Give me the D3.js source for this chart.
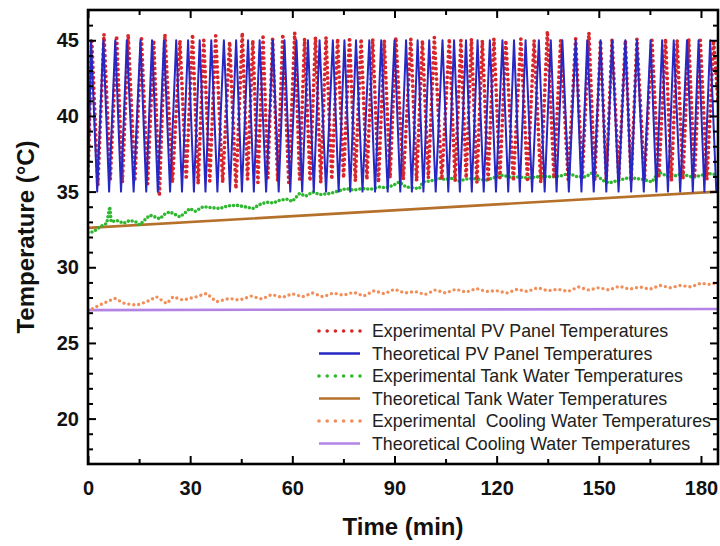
<!DOCTYPE html>
<html><head><meta charset="utf-8">
<script src="https://cdn.jsdelivr.net/npm/d3@7"></script>
<style>
body{margin:0;background:#fff}
text{font-family:Arial,"Liberation Sans",sans-serif}
</style>
</head><body>
<svg id="c" width="720" height="546"></svg>
<script>
// ---------------- DATA ----------------
const xTicksMajor = [0, 30, 60, 90, 120, 150, 180];
const xTicksMinor = [15, 45, 75, 105, 135, 165];
const yTicksMajor = [20, 25, 30, 35, 40, 45];
const yTicksMinor = [18, 19, 21, 22, 23, 24, 26, 27, 28, 29, 31, 32, 33, 34, 36, 37, 38, 39, 41, 42, 43, 44, 46];

// Theoretical PV panel temperature: saw-tooth between 35 and 45 °C
const pvTheoMax = 45, pvTheoMin = 35;
const pvTheoPeakTimes = [0.9, 4.5, 8.0, 11.4, 15.4, 18.8, 22.3, 25.9, 29.4, 32.8, 36.2, 39.9, 43.5, 47.0, 50.4, 54.3, 57.7, 61.2, 64.6, 68.0, 71.9, 75.3, 78.7, 82.6, 86.1, 90.0, 93.4, 96.8, 100.2, 104.1, 107.5, 111.0, 114.4, 118.0, 121.7, 125.1, 128.5, 132.4, 135.9, 139.3, 143.2, 146.6, 150.5, 153.9, 157.8, 161.2, 165.2, 168.6, 172.0, 175.9, 179.3, 182.7];
const pvTheoTroughTimes = [0, 2.7, 6.2, 9.7, 13.4, 17.1, 20.5, 24.1, 27.6, 31.1, 34.5, 38.0, 41.7, 45.2, 48.7, 52.3, 56.0, 59.4, 62.9, 66.3, 69.9, 73.6, 77.0, 80.6, 84.3, 88.0, 91.7, 95.1, 98.5, 102.1, 105.8, 109.2, 112.7, 116.2, 119.8, 123.4, 126.8, 130.4, 134.1, 137.6, 141.2, 144.9, 148.5, 152.2, 155.8, 159.5, 163.2, 166.9, 170.3, 173.9, 177.6, 181.0, 184.5];

// Experimental PV panel temperature
const pvExpPeakTimes = [1.1, 4.7, 8.4, 11.8, 15.7, 19.3, 22.6, 27.0, 30.7, 34.0, 37.5, 41.6, 45.3, 48.4, 51.4, 54.2, 57.2, 60.7, 63.6, 66.8, 69.9, 73.3, 76.8, 80.2, 83.6, 87.0, 90.4, 94.8, 98.2, 101.7, 106.1, 109.5, 112.6, 115.8, 119.2, 122.7, 127.1, 131.0, 134.9, 138.8, 143.2, 147.1, 150.5, 153.9, 157.8, 161.2, 165.6, 169.6, 173.0, 176.4, 179.8, 183.7];
const pvExpPeakTemps = [45.1, 45.4, 45.3, 45.4, 45.1, 45.0, 45.4, 45.0, 45.4, 45.0, 45.3, 44.9, 45.5, 45.0, 45.2, 45.1, 45.4, 45.5, 45.1, 45.2, 45.2, 45.1, 45.2, 45.1, 45.1, 45.0, 45.2, 45.1, 45.0, 45.2, 45.1, 45.0, 45.1, 45.0, 45.1, 45.0, 45.1, 45.0, 45.6, 45.0, 45.1, 45.5, 45.0, 45.1, 45.0, 45.1, 45.0, 45.1, 45.0, 45.1, 45.0, 45.0];
const pvExpTroughTimes = [0, 2.9, 6.55, 10.1, 13.75, 17.5, 20.95, 24.8, 28.85, 32.35, 35.75, 39.55, 43.45, 46.85, 49.9, 52.8, 55.7, 58.95, 62.15, 65.2, 68.35, 71.6, 75.05, 78.5, 81.9, 85.3, 88.7, 92.6, 96.5, 99.95, 103.9, 107.8, 111.05, 114.2, 117.5, 120.95, 124.9, 129.05, 132.95, 136.85, 141.0, 145.15, 148.8, 152.2, 155.85, 159.5, 163.4, 167.6, 171.3, 174.7, 178.1, 181.75, 185];
const pvExpTroughTemps = [36.0, 35.4, 35.8, 35.6, 35.7, 35.5, 34.7, 35.6, 35.8, 35.5, 35.7, 35.6, 35.2, 35.8, 35.6, 35.9, 35.7, 35.6, 35.8, 35.7, 35.6, 35.8, 35.9, 35.7, 35.8, 35.6, 35.9, 35.8, 35.7, 35.9, 35.8, 35.7, 35.9, 35.6, 35.8, 35.9, 35.7, 35.8, 35.6, 35.9, 35.8, 35.9, 35.7, 35.8, 35.9, 35.7, 35.8, 35.9, 35.7, 35.8, 35.9, 35.8, 41.0];

// Experimental tank water temperature
const tankExpTimes = [0, 1.6, 3.5, 5.5, 6.4, 6.8, 8.4, 10.5, 12.3, 14.0, 15.2, 17.0, 18.2, 20.0, 21.1, 22.5, 24.0, 25.5, 27.0, 28.5, 29.9, 31.5, 33.8, 36.0, 38.7, 41.0, 43.6, 46.0, 48.4, 50.5, 52.4, 54.5, 56.3, 58.5, 60.0, 62.1, 64.0, 66.0, 68.0, 70.9, 73.0, 75.8, 78.0, 80.7, 83.0, 85.6, 87.5, 89.5, 91.4, 93.4, 95.5, 97.3, 98.3, 100.5, 103.1, 105.0, 107.0, 109.0, 111.9, 114.0, 116.8, 119.0, 121.7, 124.0, 126.6, 129.0, 131.5, 134.0, 136.3, 139.0, 141.2, 143.5, 146.1, 148.5, 151.0, 153.0, 155.9, 158.5, 160.8, 163.0, 165.6, 167.6, 170.5, 172.5, 174.4, 176.5, 178.3, 180.5, 182.2, 185.0];
const tankExpTemps = [32.3, 32.34, 32.67, 32.9, 34.0, 33.0, 33.1, 32.9, 33.1, 33.0, 32.8, 33.2, 33.44, 33.3, 33.2, 33.5, 33.66, 33.5, 33.33, 33.6, 33.88, 33.7, 34.0, 33.95, 33.88, 34.05, 34.1, 34.0, 33.88, 34.15, 34.3, 34.25, 34.43, 34.5, 34.35, 34.87, 34.7, 34.98, 34.8, 34.87, 35.0, 35.2, 35.1, 35.2, 35.15, 35.3, 35.25, 35.4, 35.64, 35.3, 35.25, 35.2, 35.64, 35.7, 35.87, 35.8, 35.87, 35.7, 35.87, 35.85, 35.75, 35.9, 36.08, 35.95, 35.97, 35.9, 35.97, 36.0, 35.97, 36.05, 36.2, 36.0, 35.97, 36.3, 35.75, 35.57, 35.75, 35.9, 35.87, 35.8, 35.64, 36.3, 35.97, 36.05, 36.2, 36.0, 35.97, 36.1, 36.2, 36.1];

// Theoretical tank water temperature
const tankTheoTimes = [0, 185];
const tankTheoTemps = [32.6, 35.0];

// Experimental cooling water temperature
const coolExpTimes = [0, 2.5, 5.5, 7.9, 10.8, 14.3, 17.2, 20.1, 23.1, 25.0, 27.9, 31.8, 34.8, 37.7, 41.6, 44.5, 48, 51, 54, 57, 60, 63, 66, 69, 72, 75, 78, 81, 84, 87, 90, 93, 96, 99, 102, 105, 108, 111, 114, 117, 120, 123, 126, 129, 132, 135, 138, 141, 144, 147, 150, 153, 156, 159, 162, 165, 168, 171, 174, 177, 180, 183, 185];
const coolExpTemps = [27.1, 27.4, 27.72, 27.94, 27.6, 27.5, 27.72, 28.05, 27.6, 28.05, 27.83, 28.05, 28.27, 27.72, 27.94, 27.83, 28.1, 27.9, 28.2, 28.0, 28.25, 28.05, 28.3, 28.05, 28.3, 28.15, 28.35, 28.1, 28.45, 28.25, 28.55, 28.3, 28.4, 28.2, 28.5, 28.3, 28.55, 28.35, 28.6, 28.4, 28.45, 28.3, 28.55, 28.4, 28.65, 28.45, 28.55, 28.4, 28.7, 28.5, 28.65, 28.5, 28.75, 28.55, 28.7, 28.55, 28.8, 28.65, 28.8, 28.7, 28.95, 28.85, 29.05];

// Theoretical cooling water temperature
const coolTheoTimes = [0, 185];
const coolTheoTemps = [27.17, 27.24];

const legendLabels = [
  "Experimental PV Panel Temperatures",
  "Theoretical PV Panel Temperatures",
  "Experimental Tank Water Temperatures",
  "Theoretical Tank Water Temperatures",
  "Experimental  Cooling Water Temperatures",
  "Theoretical Cooling Water Temperatures"
];

// ---------------- BUILD SERIES ----------------
function zip(ts, vs) { return ts.map((t, i) => [t, vs[i]]); }
function sawtooth(troughT, troughV, peakT, peakV) {
  const out = [];
  for (let i = 0; i < troughT.length; i++) {
    out.push([troughT[i], troughV[i]]);
    if (i < peakT.length) out.push([peakT[i], peakV[i]]);
  }
  return out;
}
const pvTheo = sawtooth(pvTheoTroughTimes, pvTheoTroughTimes.map(() => pvTheoMin),
                        pvTheoPeakTimes, pvTheoPeakTimes.map(() => pvTheoMax));
const pvExp = sawtooth(pvExpTroughTimes, pvExpTroughTemps, pvExpPeakTimes, pvExpPeakTemps);

const styles = [
  {color: "#d8262b", width: 3.8, dash: "0 5.2", legendDash: "0 8.2"},
  {color: "#2727c4", width: 2.0, dash: null},
  {color: "#2fb82f", width: 3.6, dash: "0 4", legendDash: "0 8.2"},
  {color: "#b5702a", width: 2.6, dash: null},
  {color: "#f28e58", width: 3.4, dash: "0 5", legendDash: "0 8.2"},
  {color: "#b483e6", width: 2.6, dash: null}
];
const series = [pvExp, pvTheo, zip(tankExpTimes, tankExpTemps), zip(tankTheoTimes, tankTheoTemps),
                zip(coolExpTimes, coolExpTemps), zip(coolTheoTimes, coolTheoTemps)];

// ---------------- DRAW ----------------
const svg = d3.select("#c");
const L = 88, R = 718, T = 10, B = 464;
const x = d3.scaleLinear().domain([0, 185]).range([L, R]);
const y = d3.scaleLinear().domain([17, 47]).range([B, T]);

svg.append("rect").attr("width", 720).attr("height", 546).attr("fill", "#fff");
svg.append("clipPath").attr("id", "clip").append("rect")
  .attr("x", L).attr("y", T).attr("width", R - L).attr("height", B - T);

const line = d3.line().x(d => x(d[0])).y(d => y(d[1]));
const plot = svg.append("g").attr("clip-path", "url(#clip)");
[5, 4, 3, 2, 0, 1].forEach(i => {
  const s = styles[i];
  plot.append("path").datum(series[i])
    .attr("d", line).attr("fill", "none")
    .attr("stroke", s.color).attr("stroke-width", s.width)
    .attr("stroke-linecap", "round").attr("stroke-linejoin", "round")
    .attr("stroke-dasharray", s.dash);
});

// axes (inward ticks, mirrored)
function styleAxis(g) {
  g.select(".domain").remove();
  g.selectAll(".tick line").attr("stroke", "#000").attr("stroke-width", 2);
  g.selectAll("text").attr("font-size", 20).attr("font-weight", "bold").attr("fill", "#111");
}
svg.append("g").attr("transform", `translate(0,${B})`)
  .call(d3.axisBottom(x).tickValues(xTicksMajor).tickSize(-8).tickPadding(17).tickFormat(d3.format("d"))).call(styleAxis);
svg.append("g").attr("transform", `translate(0,${B})`)
  .call(d3.axisBottom(x).tickValues(xTicksMinor).tickSize(-5).tickFormat("")).call(styleAxis);
svg.append("g").attr("transform", `translate(0,${T})`)
  .call(d3.axisTop(x).tickValues(xTicksMajor).tickSize(-8).tickFormat("")).call(styleAxis);
svg.append("g").attr("transform", `translate(0,${T})`)
  .call(d3.axisTop(x).tickValues(xTicksMinor).tickSize(-5).tickFormat("")).call(styleAxis);
svg.append("g").attr("transform", `translate(${L},0)`)
  .call(d3.axisLeft(y).tickValues(yTicksMajor).tickSize(-8).tickPadding(9).tickFormat(d3.format("d"))).call(styleAxis);
svg.append("g").attr("transform", `translate(${L},0)`)
  .call(d3.axisLeft(y).tickValues(yTicksMinor).tickSize(-5).tickFormat("")).call(styleAxis);
svg.append("g").attr("transform", `translate(${R},0)`)
  .call(d3.axisRight(y).tickValues(yTicksMajor).tickSize(-8).tickFormat("")).call(styleAxis);
svg.append("g").attr("transform", `translate(${R},0)`)
  .call(d3.axisRight(y).tickValues(yTicksMinor).tickSize(-5).tickFormat("")).call(styleAxis);

svg.append("rect").attr("x", L).attr("y", T).attr("width", R - L).attr("height", B - T)
  .attr("fill", "none").attr("stroke", "#000").attr("stroke-width", 2.6);

// axis titles
svg.append("text").attr("x", 403).attr("y", 535).attr("text-anchor", "middle")
  .attr("font-size", 24).attr("font-weight", "bold").attr("fill", "#111").text("Time (min)");
svg.append("text").attr("transform", "translate(34,237) rotate(-90)").attr("text-anchor", "middle")
  .attr("font-size", 24).attr("font-weight", "bold").attr("fill", "#111").text("Temperature (°C)");

// legend
const lg = svg.append("g");
const legY = d3.scaleLinear().domain([0, 5]).range([331, 443.5]);
legendLabels.forEach((lab, i) => {
  const s = styles[i];
  lg.append("line").attr("x1", 319).attr("x2", 360).attr("y1", legY(i)).attr("y2", legY(i))
    .attr("stroke", s.color).attr("stroke-width", s.dash ? 3.6 : 2.4)
    .attr("stroke-linecap", s.dash ? "round" : "butt")
    .attr("stroke-dasharray", s.legendDash || null);
  lg.append("text").attr("x", 372).attr("y", legY(i)).attr("dy", "0.35em")
    .attr("font-size", 17.8).attr("fill", "#222").style("white-space", "pre").text(lab);
});
</script>
</body></html>
